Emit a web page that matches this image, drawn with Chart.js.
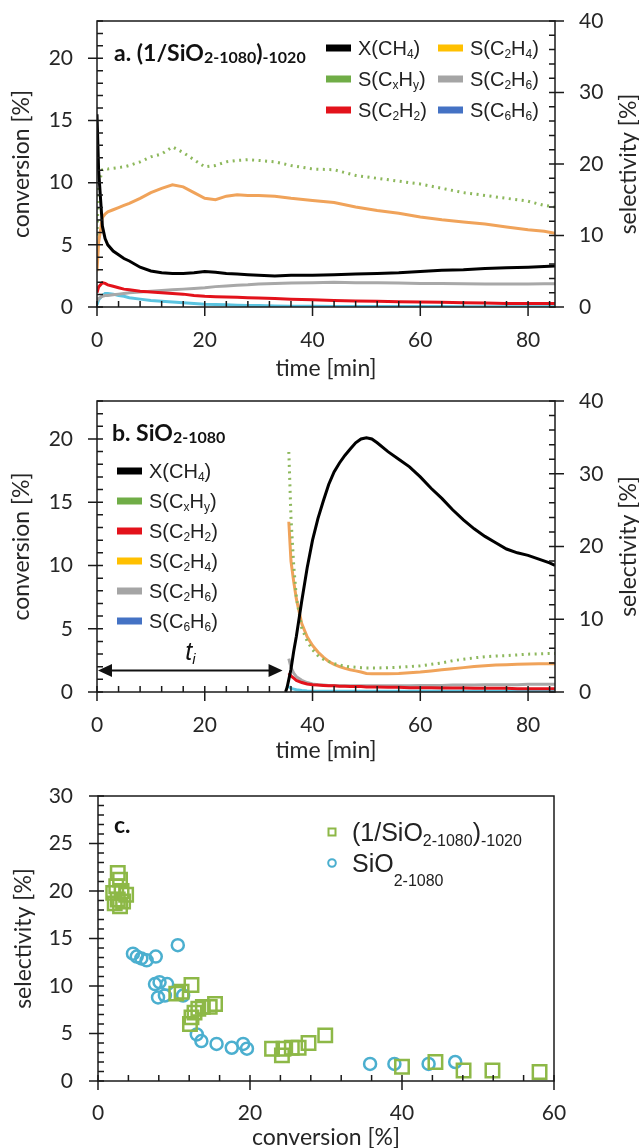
<!DOCTYPE html>
<html>
<head>
<meta charset="utf-8">
<script src="https://cdn.jsdelivr.net/npm/chart.js@4.4.1/dist/chart.umd.min.js"></script>
<style>
  body { margin: 0; background: #fff; }
  #wrap { position: relative; width: 639px; height: 1148px; }
  canvas { position: absolute; left: 0; }
</style>
</head>
<body>
<div id="wrap">
  <canvas id="chart-a" width="639" height="380" style="top:0"></canvas>
  <canvas id="chart-b" width="639" height="392" style="top:380px"></canvas>
  <canvas id="chart-c" width="639" height="376" style="top:772px"></canvas>
</div>
<script>
// ---- data ----
const seriesLabels = ['X(CH_{4})', 'S(C_{x}H_{y})', 'S(C_{2}H_{2})', 'S(C_{2}H_{4})', 'S(C_{2}H_{6})', 'S(C_{6}H_{6})'];

// panel a: (1/SiO2-1080)-1020
const timeA = [0, 0.3, 1, 1.5, 2, 3, 4, 5, 6, 8, 10, 12, 14, 16, 18, 20, 22, 24, 26, 28, 30, 33, 36, 40, 44, 48, 52, 56, 60, 64, 68, 72, 76, 80, 83, 85];
const convA = [15.5, 11, 6.5, 5.5, 5.0, 4.5, 4.2, 3.9, 3.7, 3.2, 2.9, 2.75, 2.7, 2.7, 2.75, 2.85, 2.8, 2.7, 2.65, 2.6, 2.55, 2.5, 2.55, 2.55, 2.6, 2.65, 2.7, 2.75, 2.85, 2.95, 3.0, 3.1, 3.15, 3.2, 3.25, 3.3];
const cxhyA = [10, 17, 19.2, 19.4, 19.3, 19.4, 19.5, 19.6, 19.8, 20.3, 21.0, 21.4, 22.4, 21.6, 20.6, 19.6, 19.8, 20.3, 20.5, 20.6, 20.5, 20.3, 19.8, 19.3, 19.2, 18.4, 18.0, 17.6, 17.2, 16.6, 16.0, 15.6, 15.2, 14.8, 14.2, 14.0];
const c2h2A = [2.0, 2.8, 3.4, 3.3, 3.1, 2.9, 2.7, 2.5, 2.4, 2.2, 2.1, 2.0, 1.9, 1.8, 1.6, 1.5, 1.45, 1.4, 1.35, 1.3, 1.25, 1.2, 1.1, 1.0, 0.9, 0.85, 0.8, 0.75, 0.7, 0.65, 0.6, 0.55, 0.5, 0.5, 0.5, 0.5];
const c2h4A = [5, 9, 12.5, 13.0, 13.3, 13.6, 13.9, 14.2, 14.5, 15.2, 16.0, 16.6, 17.1, 16.8, 16.0, 15.2, 15.0, 15.5, 15.7, 15.6, 15.6, 15.5, 15.2, 14.9, 14.6, 14.0, 13.5, 13.1, 12.6, 12.2, 11.9, 11.6, 11.2, 10.8, 10.6, 10.3];
const c2h6A = [0.8, 1.2, 1.5, 1.6, 1.6, 1.7, 1.8, 1.9, 2.0, 2.1, 2.2, 2.3, 2.4, 2.5, 2.6, 2.7, 2.85, 2.95, 3.05, 3.1, 3.2, 3.3, 3.35, 3.4, 3.45, 3.4, 3.4, 3.35, 3.3, 3.3, 3.25, 3.2, 3.2, 3.2, 3.25, 3.25];
const c6h6A = [0.3, 1.0, 1.6, 1.9, 1.9, 1.8, 1.6, 1.5, 1.3, 1.1, 0.9, 0.8, 0.7, 0.6, 0.5, 0.4, 0.35, 0.3, 0.25, 0.2, 0.2, 0.15, 0.12, 0.1, 0.08, 0.08, 0.07, 0.07, 0.06, 0.06, 0.05, 0.05, 0.05, 0.05, 0.05, 0.05];

// panel b: SiO2-1080
const timeB = [35, 35.3, 35.6, 36, 36.5, 37, 38, 39, 40, 41, 42, 43, 44, 45, 46, 47, 48, 49, 50, 51, 52, 54, 56, 58, 60, 62, 64, 66, 68, 70, 72, 74, 76, 78, 80, 82, 84, 85];
const convB = [0, 0.4, 1.0, 1.8, 3.2, 4.4, 7.2, 9.8, 12.0, 13.7, 15.1, 16.4, 17.4, 18.1, 18.7, 19.2, 19.7, 20.0, 20.1, 20.0, 19.7, 19.0, 18.4, 17.8, 17.0, 16.1, 15.3, 14.4, 13.6, 12.9, 12.3, 11.8, 11.3, 11.0, 10.8, 10.5, 10.2, 10.0];
const cxhyB = [null, null, 33, 24, 17.5, 13, 8.8, 7.0, 5.8, 5.0, 4.5, 4.2, 3.9, 3.7, 3.55, 3.45, 3.4, 3.35, 3.3, 3.3, 3.3, 3.35, 3.4, 3.5, 3.6, 3.8, 4.0, 4.3, 4.5, 4.7, 4.85, 4.95, 5.0, 5.1, 5.2, 5.25, 5.3, 5.3];
const c2h2B = [null, null, 2.6, 2.2, 1.9, 1.6, 1.3, 1.1, 1.0, 0.95, 0.9, 0.85, 0.85, 0.8, 0.8, 0.75, 0.75, 0.75, 0.7, 0.7, 0.7, 0.65, 0.65, 0.6, 0.6, 0.6, 0.55, 0.55, 0.55, 0.5, 0.5, 0.5, 0.5, 0.45, 0.45, 0.45, 0.45, 0.45];
const c2h4B = [null, null, 23.4, 18.0, 15.2, 12.8, 9.4, 7.6, 6.4, 5.5, 4.8, 4.2, 3.8, 3.5, 3.25, 3.05, 2.9, 2.75, 2.55, 2.5, 2.5, 2.5, 2.55, 2.65, 2.75, 2.9, 3.05, 3.2, 3.35, 3.5, 3.6, 3.7, 3.75, 3.8, 3.85, 3.9, 3.9, 3.9];
const c2h6B = [null, null, 4.6, 3.4, 2.6, 2.1, 1.6, 1.3, 1.1, 1.0, 0.95, 0.9, 0.9, 0.85, 0.85, 0.85, 0.85, 0.85, 0.85, 0.85, 0.85, 0.85, 0.85, 0.85, 0.9, 0.9, 0.9, 0.95, 0.95, 0.95, 1.0, 1.0, 1.0, 1.0, 1.05, 1.05, 1.05, 1.05];
const c6h6B = [null, null, 0.8, 0.5, 0.4, 0.3, 0.2, 0.15, 0.12, 0.1, 0.1, 0.1, 0.1, 0.1, 0.1, 0.1, 0.1, 0.1, 0.1, 0.1, 0.1, 0.1, 0.1, 0.1, 0.1, 0.1, 0.1, 0.1, 0.1, 0.1, 0.1, 0.1, 0.1, 0.1, 0.1, 0.1, 0.1, 0.1];
const inductionFrom = 0, inductionTo = 35, inductionLevel = 1.7;

// panel c: selectivity vs conversion
const squareLabel = '(1/SiO_{2-1080})_{-1020}';
const squareX = [2.6, 2.9, 2.4, 3.1, 3.7, 2.0, 2.6, 2.9, 2.2, 3.3, 10.3, 11.0, 12.3, 12.1, 12.3, 12.7, 13.2, 13.8, 15.4, 14.7, 22.9, 24.2, 24.4, 25.5, 26.4, 27.7, 29.9, 40.0, 44.4, 48.1, 51.9, 58.1];
const squareY = [21.9, 21.2, 20.5, 20.0, 19.6, 19.8, 19.1, 18.4, 18.7, 18.9, 9.2, 9.4, 10.1, 6.0, 6.7, 7.2, 7.6, 7.8, 8.1, 7.8, 3.4, 2.7, 3.4, 3.5, 3.5, 4.0, 4.8, 1.5, 2.0, 1.1, 1.1, 0.95];
const circleLabel = 'SiO_{2-1080}';
const circleX = [4.6, 5.1, 5.7, 6.4, 7.6, 10.5, 7.5, 8.1, 9.1, 7.9, 8.8, 11.2, 13.0, 13.6, 15.6, 17.6, 19.1, 19.6, 35.8, 39.0, 43.5, 47.0];
const circleY = [13.4, 13.1, 12.9, 12.7, 13.1, 14.3, 10.2, 10.4, 10.2, 8.8, 9.0, 9.0, 4.9, 4.2, 3.9, 3.5, 3.9, 3.4, 1.8, 1.8, 1.8, 2.0];

// tick labels
const timeTicks = [0, 20, 40, 60, 80];
const convTicks = [0, 5, 10, 15, 20];
const selTicks = [0, 10, 20, 30, 40];
const convTicksC = [0, 20, 40, 60];
const selTicksC = [0, 5, 10, 15, 20, 25, 30];

// ---- helpers ----
const ink = '#262626';
const tickFont = { family: 'Lato', size: 21 };
const titleFont = { family: 'Lato', size: 23 };

function pts(xs, ys) {
  return xs.map((x, i) => ({ x: x, y: ys[i] })).filter(p => p.y !== null);
}

// text with _{...} subscripts
function drawRich(ctx, str, x, y, o) {
  const parts = [];
  str.replace(/_\{([^}]*)\}|([^_]+)/g, (m, s, n) => {
    parts.push(s !== undefined ? { t: s, sub: true } : { t: n, sub: false });
    return m;
  });
  const font = sub => (o.style || 'normal') + ' ' + (o.weight || 'normal') + ' ' + (sub ? o.sub : o.size) + 'px ' + o.family;
  ctx.save();
  ctx.fillStyle = o.color || ink;
  ctx.textAlign = 'left';
  ctx.textBaseline = 'alphabetic';
  let cx = x;
  parts.forEach(p => {
    ctx.font = font(p.sub);
    ctx.fillText(p.t, cx, p.sub ? y + o.drop : y);
    cx += ctx.measureText(p.t).width;
  });
  ctx.restore();
}

function fixedTicks(values) {
  return s => { s.ticks = values.map(v => ({ value: v })); };
}

// fixed box size, and no extra room for the end labels (keeps plot areas aligned)
function fixWidth(w) {
  return s => { s.width = w; s.paddingTop = 0; s.paddingBottom = 0; };
}
function fixHeight(h) {
  return s => { s.height = h; s.paddingLeft = 0; s.paddingRight = 0; };
}

// box around plot + inward minor ticks, crossing major ticks
const framePlugin = {
  id: 'frame',
  afterDatasetsDraw(chart, args, opts) {
    const { ctx, chartArea: a } = chart;
    ctx.save();
    ctx.strokeStyle = '#1a1a1a';
    ctx.lineWidth = 1.5;
    ctx.strokeRect(a.left, a.top, a.right - a.left, a.bottom - a.top);
    ctx.beginPath();
    opts.axes.forEach(ax => {
      const s = chart.scales[ax.id];
      for (let v = 0; v <= ax.last + 1e-9; v += ax.minor) {
        const major = Math.abs(v / ax.major - Math.round(v / ax.major)) < 1e-6;
        const p = s.getPixelForValue(v);
        const inn = 6, out = major ? 9 : 0;
        if (ax.side === 'left') { ctx.moveTo(a.left - out, p); ctx.lineTo(a.left + inn, p); }
        if (ax.side === 'right') { ctx.moveTo(a.right + out, p); ctx.lineTo(a.right - inn, p); }
        if (ax.side === 'bottom') { ctx.moveTo(p, a.bottom + out); ctx.lineTo(p, a.bottom - inn); }
      }
    });
    ctx.stroke();
    if (opts.rightTitle) {
      ctx.translate(opts.rightTitle.x, (a.top + a.bottom) / 2);
      ctx.rotate(-Math.PI / 2);
      ctx.font = titleFont.size + 'px ' + titleFont.family;
      ctx.fillStyle = ink;
      ctx.textAlign = 'center';
      ctx.textBaseline = 'middle';
      ctx.fillText(opts.rightTitle.text, 0, 0);
    }
    ctx.restore();
  }
};

const titlePlugin = {
  id: 'panelTitle',
  afterDraw(chart, args, o) {
    drawRich(chart.ctx, o.text, o.x, o.y, { size: 23, sub: 16, drop: 2, family: 'Lato', weight: 'bold', color: '#111' });
  }
};

const lineLegendPlugin = {
  id: 'lineLegend',
  afterDraw(chart, args, o) {
    const ctx = chart.ctx;
    chart.data.datasets.forEach((ds, i) => {
      const col = Math.floor(i / o.rows), row = i % o.rows;
      const x = o.x + col * o.colW, y = o.y + row * o.rowH;
      ctx.fillStyle = ds.legendColor;
      ctx.fillRect(x, y - 3.5, 25, 7);
      drawRich(ctx, ds.label, x + 32, y + 7, { size: 20, sub: 12, drop: 3, family: 'Liberation Sans', color: '#222' });
    });
  }
};

const arrowPlugin = {
  id: 'induction',
  afterDatasetsDraw(chart) {
    const ctx = chart.ctx;
    const x0 = chart.scales.x.getPixelForValue(inductionFrom) + 1;
    const x1 = chart.scales.x.getPixelForValue(inductionTo) - 3;
    const y = chart.scales.y.getPixelForValue(inductionLevel);
    ctx.save();
    ctx.strokeStyle = '#111';
    ctx.fillStyle = '#111';
    ctx.lineWidth = 2.2;
    ctx.beginPath(); ctx.moveTo(x0 + 10, y); ctx.lineTo(x1 - 10, y); ctx.stroke();
    ctx.beginPath(); ctx.moveTo(x0, y); ctx.lineTo(x0 + 14, y - 6.5); ctx.lineTo(x0 + 14, y + 6.5); ctx.closePath(); ctx.fill();
    ctx.beginPath(); ctx.moveTo(x1, y); ctx.lineTo(x1 - 14, y - 6.5); ctx.lineTo(x1 - 14, y + 6.5); ctx.closePath(); ctx.fill();
    const tx = chart.scales.x.getPixelForValue((inductionFrom + inductionTo) / 2) - 6;
    drawRich(ctx, 't_{i}', tx, y - 10, { size: 25, sub: 15, drop: 4, family: 'Liberation Sans', style: 'italic', color: '#111' });
    ctx.restore();
  }
};

const scatterLegendPlugin = {
  id: 'scatterLegend',
  afterDraw(chart, args, o) {
    const ctx = chart.ctx;
    chart.data.datasets.forEach((ds, i) => {
      const x = o.x, y = o.y + i * o.rowH;
      ctx.save();
      ctx.strokeStyle = ds.borderColor;
      ctx.lineWidth = 2;
      ctx.beginPath();
      if (ds.pointStyle === 'rect') ctx.rect(x - 3.5, y - 3.5, 7, 7);
      else ctx.arc(x, y, 3.8, 0, Math.PI * 2);
      ctx.stroke();
      ctx.restore();
      drawRich(ctx, ds.label, x + 20, y + 9, { size: 25, sub: 16, drop: o.drops[i], family: 'Liberation Sans', color: '#222' });
    });
  }
};

function lineSets(t, conv, cxhy, c2h2, c2h4, c2h6, c6h6) {
  return [
    { label: seriesLabels[0], data: pts(t, conv), yAxisID: 'y', borderColor: '#000', legendColor: '#000' },
    { label: seriesLabels[1], data: pts(t, cxhy), yAxisID: 'y2', borderColor: '#8DB85C', legendColor: '#70AD47', borderDash: [2, 4.5] },
    { label: seriesLabels[2], data: pts(t, c2h2), yAxisID: 'y2', borderColor: '#E3121B', legendColor: '#E3121B' },
    { label: seriesLabels[3], data: pts(t, c2h4), yAxisID: 'y2', borderColor: '#F0A35A', legendColor: '#FFC000' },
    { label: seriesLabels[4], data: pts(t, c2h6), yAxisID: 'y2', borderColor: '#A8A8A8', legendColor: '#A5A5A5' },
    { label: seriesLabels[5], data: pts(t, c6h6), yAxisID: 'y2', borderColor: '#5BC4E0', legendColor: '#4472C4' }
  ].map(d => Object.assign({ pointRadius: 0, borderWidth: 3, tension: 0, fill: false }, d));
}

function timeOptions(xHeight, titlePadBottom) {
  return {
    x: {
      type: 'linear', min: 0, max: 85,
      afterBuildTicks: fixedTicks(timeTicks),
      afterFit: fixHeight(xHeight),
      grid: { display: false, drawTicks: false }, border: { display: false },
      ticks: { font: tickFont, color: ink, padding: 21, maxRotation: 0 },
      title: { display: true, text: 'time [min]', font: titleFont, color: ink, padding: { top: 0, bottom: titlePadBottom } }
    },
    y: {
      position: 'left', min: 0, max: 23,
      afterBuildTicks: fixedTicks(convTicks),
      afterFit: fixWidth(97),
      grid: { display: false, drawTicks: false }, border: { display: false },
      ticks: { font: tickFont, color: ink, padding: 24 },
      title: { display: true, text: 'conversion [%]', font: titleFont, color: ink, padding: { top: 8, bottom: 0 } }
    },
    y2: {
      position: 'right', min: 0, max: 40,
      afterBuildTicks: fixedTicks(selTicks),
      afterFit: fixWidth(84),
      grid: { display: false, drawTicks: false }, border: { display: false },
      ticks: { font: tickFont, color: ink, padding: 24 },
      title: { display: false }
    }
  };
}

const timeFrame = {
  axes: [
    { id: 'x', side: 'bottom', major: 20, minor: 4, last: 84 },
    { id: 'y', side: 'left', major: 5, minor: 1, last: 23 },
    { id: 'y2', side: 'right', major: 10, minor: 2, last: 40 }
  ],
  rightTitle: { text: 'selectivity [%]', x: 629 }
};

// ---- panel a ----
new Chart(document.getElementById('chart-a'), {
  type: 'line',
  data: { datasets: lineSets(timeA, convA, cxhyA, c2h2A, c2h4A, c2h6A, c6h6A) },
  options: {
    responsive: false, animation: false, events: [],
    layout: { padding: { top: 21, left: 0, right: 0, bottom: 0 } },
    scales: timeOptions(73, -2),
    plugins: {
      legend: { display: false }, tooltip: { enabled: false },
      frame: timeFrame,
      panelTitle: { text: 'a. (1/SiO_{2-1080})_{-1020}', x: 114, y: 61 },
      lineLegend: { x: 326, y: 48, rows: 3, colW: 112, rowH: 31 }
    }
  },
  plugins: [framePlugin, titlePlugin, lineLegendPlugin]
});

// ---- panel b ----
new Chart(document.getElementById('chart-b'), {
  type: 'line',
  data: { datasets: lineSets(timeB, convB, cxhyB, c2h2B, c2h4B, c2h6B, c6h6B) },
  options: {
    responsive: false, animation: false, events: [],
    layout: { padding: { top: 21, left: 0, right: 0, bottom: 0 } },
    scales: timeOptions(80, 8),
    plugins: {
      legend: { display: false }, tooltip: { enabled: false },
      frame: timeFrame,
      panelTitle: { text: 'b. SiO_{2-1080}', x: 112, y: 61 },
      lineLegend: { x: 117, y: 91, rows: 6, colW: 0, rowH: 30 }
    }
  },
  plugins: [framePlugin, arrowPlugin, titlePlugin, lineLegendPlugin]
});

// ---- panel c ----
new Chart(document.getElementById('chart-c'), {
  type: 'scatter',
  data: {
    datasets: [
      { label: squareLabel, data: pts(squareX, squareY), pointStyle: 'rect', pointRadius: 9.5, borderWidth: 2.5, borderColor: '#8DB847', backgroundColor: 'rgba(0,0,0,0)' },
      { label: circleLabel, data: pts(circleX, circleY), pointStyle: 'circle', pointRadius: 6, borderWidth: 2.5, borderColor: '#4BAFCF', backgroundColor: 'rgba(0,0,0,0)' }
    ]
  },
  options: {
    responsive: false, animation: false, events: [],
    layout: { padding: { top: 24, left: 0, right: 85, bottom: 0 } },
    scales: {
      x: {
        type: 'linear', min: 0, max: 60,
        afterBuildTicks: fixedTicks(convTicksC),
        afterFit: fixHeight(67),
        grid: { display: false, drawTicks: false }, border: { display: false },
        ticks: { font: tickFont, color: ink, padding: 20, maxRotation: 0 },
        title: { display: true, text: 'conversion [%]', font: titleFont, color: ink, padding: { top: 0, bottom: -3 } }
      },
      y: {
        min: 0, max: 30,
        afterBuildTicks: fixedTicks(selTicksC),
        afterFit: fixWidth(98),
        grid: { display: false, drawTicks: false }, border: { display: false },
        ticks: { font: tickFont, color: ink, padding: 25 },
        title: { display: true, text: 'selectivity [%]', font: titleFont, color: ink, padding: { top: 10, bottom: 0 } }
      }
    },
    plugins: {
      legend: { display: false }, tooltip: { enabled: false },
      frame: { axes: [
        { id: 'x', side: 'bottom', major: 20, minor: 4, last: 60 },
        { id: 'y', side: 'left', major: 5, minor: 1, last: 30 }
      ] },
      panelTitle: { text: 'c.', x: 114, y: 61 },
      scatterLegend: { x: 332, y: 60, rowH: 31, drops: [5, 14] }
    }
  },
  plugins: [framePlugin, titlePlugin, scatterLegendPlugin]
});
</script>
</body>
</html>
